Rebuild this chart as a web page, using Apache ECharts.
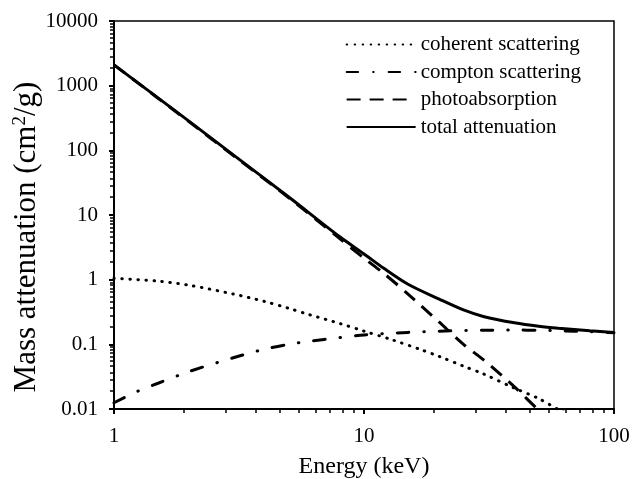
<!DOCTYPE html>
<html>
<head>
<meta charset="utf-8">
<script src="https://cdn.jsdelivr.net/npm/echarts@6/dist/echarts.min.js"></script>
<style>
html,body{margin:0;padding:0;background:#fff;}
#chart{width:632px;height:479px;}
</style>
</head>
<body>
<div id="chart"></div>
<script>
// Energy (keV) and mass attenuation (cm^2/g)
const coherentE = [1, 1.5, 2, 3, 4, 5, 6, 8, 10, 13, 17, 20, 25, 30, 40, 50, 60, 70];
const coherentV = [1.05, 0.95, 0.82, 0.6, 0.46, 0.36, 0.29, 0.21, 0.16, 0.117, 0.082, 0.065, 0.046, 0.035, 0.021, 0.0145, 0.0098, 0.0075];

const comptonE = [1, 1.25, 1.5, 2, 3, 4, 5, 6, 8, 10, 15, 20, 30, 40, 50, 60, 80, 100];
const comptonV = [0.0125, 0.019, 0.025, 0.038, 0.062, 0.084, 0.1, 0.111, 0.127, 0.14, 0.153, 0.16, 0.165, 0.166, 0.165, 0.162, 0.157, 0.151];

const photoE = [1, 2, 3, 5, 8, 10, 12, 15, 20, 25, 30, 40, 50, 55];
const photoV = [2100, 275, 83, 18.5, 4.3, 2.15, 1.25, 0.6, 0.22, 0.1, 0.058, 0.022, 0.0095, 0.0068];

const totalE = [1, 2, 3, 5, 8, 10, 12, 15, 20, 25, 30, 40, 50, 60, 80, 100];
const totalV = [2100, 280, 85, 19, 4.6, 2.5, 1.5, 0.85, 0.5, 0.34, 0.27, 0.215, 0.19, 0.177, 0.162, 0.152];

const seriesNames = ['coherent scattering', 'compton scattering', 'photoabsorption', 'total attenuation'];
const xTicks = [1, 10, 100];
const yTicks = [0.01, 0.1, 1, 10, 100, 1000, 10000];

const pair = (xs, ys) => xs.map((x, i) => [x, ys[i]]);
const FONT = '"Liberation Serif", "Times New Roman", serif';

const chart = echarts.init(document.getElementById('chart'), null, {renderer: 'canvas'});
const mk = (name, data, style) => ({
  name, type: 'line', data, symbol: 'none', smooth: 0.3, clip: true,
  lineStyle: Object.assign({color: '#000', width: 3}, style),
  itemStyle: {color: '#000'},
  z: 3
});

chart.setOption({
  animation: false,
  backgroundColor: '#fff',
  textStyle: {fontFamily: FONT, color: '#000'},
  grid: {left: 114, right: 18, top: 21, bottom: 70, containLabel: false, outerBoundsMode: 'none',
    show: true, borderColor: '#000', borderWidth: 1.5, backgroundColor: 'transparent'},
  legend: {
    orient: 'vertical', right: 46, top: 29,
    itemWidth: 69, itemHeight: 14, itemGap: 6.5,
    itemStyle: {opacity: 0},
    textStyle: {fontFamily: FONT, fontSize: 21, color: '#000'},
    data: seriesNames
  },
  xAxis: {
    type: 'log', logBase: 10, min: xTicks[0], max: xTicks[xTicks.length - 1],
    name: 'Energy (keV)', nameLocation: 'middle', nameGap: 46, nameMoveOverlap: false,
    nameTextStyle: {fontFamily: FONT, fontSize: 24, color: '#000'},
    axisLine: {lineStyle: {color: '#000', width: 2}},
    axisTick: {show: true, inside: false, length: 5, lineStyle: {color: '#000', width: 2}},
    minorTick: {show: true, splitNumber: 10, length: 4, lineStyle: {color: '#000', width: 1.5}},
    axisLabel: {fontFamily: FONT, fontSize: 21, color: '#000', margin: 17},
    splitLine: {show: false}
  },
  yAxis: {
    type: 'log', logBase: 10, min: yTicks[0], max: yTicks[yTicks.length - 1],
    name: 'Mass attenuation (cm{sup|2}/g)', nameLocation: 'middle', nameGap: 72, nameRotate: 90, nameMoveOverlap: false,
    nameTextStyle: {fontFamily: FONT, fontSize: 31, color: '#000', padding: [0, 44, 0, 0],
      rich: {sup: {fontFamily: FONT, fontSize: 19, verticalAlign: 'top', padding: [0, 0, 12, 0]}}},
    axisLine: {lineStyle: {color: '#000', width: 2}},
    axisTick: {show: true, inside: false, length: 5, lineStyle: {color: '#000', width: 2}},
    minorTick: {show: true, splitNumber: 10, length: 4, lineStyle: {color: '#000', width: 1.5}},
    axisLabel: {fontFamily: FONT, fontSize: 21, color: '#000', margin: 16, formatter: v => String(v)},
    splitLine: {show: false}
  },
  series: [
    mk(seriesNames[0], pair(coherentE, coherentV), {type: [0.5, 7.5], cap: 'round'}),
    mk(seriesNames[1], pair(comptonE, comptonV), {type: [11.5, 15, 0.5, 15], cap: 'round'}),
    mk(seriesNames[2], pair(photoE, photoV), {type: [14, 9]}),
    mk(seriesNames[3], pair(totalE, totalV), {type: 'solid'})
  ]
});
</script>
</body>
</html>
